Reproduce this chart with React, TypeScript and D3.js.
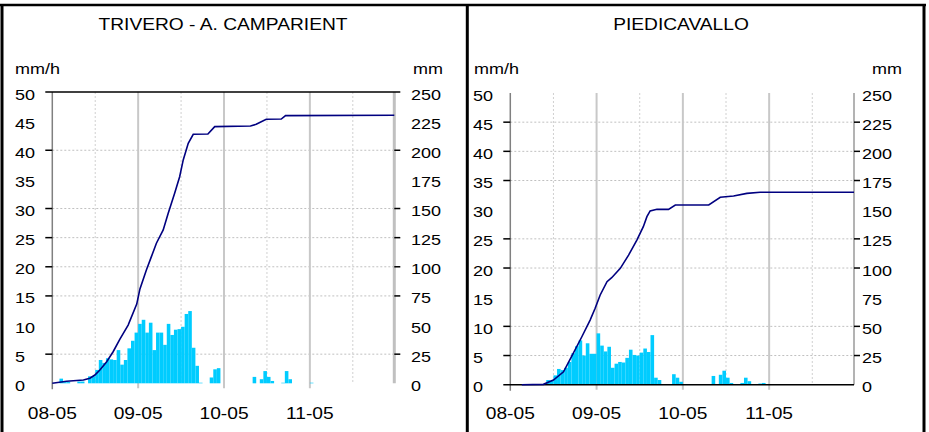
import React from 'react';
import * as d3 from 'd3';

// ---------- data ----------
const DAY_LABELS = ['08-05', '09-05', '10-05', '11-05'];
const DAY_HOURS = [0, 24, 48, 72];
const HALF_DAY_HOURS = [12, 36, 60, 84];
const RATE_TICKS = [0, 5, 10, 15, 20, 25, 30, 35, 40, 45, 50];
const CUM_TICKS = [0, 25, 50, 75, 100, 125, 150, 175, 200, 225, 250];

// TRIVERO - A. CAMPARIENT : hourly rain (mm/h)
const TRIVERO_BAR_HOURS = [2, 3, 4, 7, 8, 10, 11, 12, 13, 14, 15, 16, 17, 18, 19, 20, 21, 22, 23, 24, 25, 26, 27, 28, 29, 30, 31, 32, 33, 34, 35, 36, 37, 38, 39, 40, 41, 44, 45, 46, 56, 58, 59, 60, 61, 64, 65, 66, 72];
const TRIVERO_BAR_VALUES = [0.8, 0.2, 0.2, 0.3, 0.3, 1.2, 1.2, 2.3, 4.0, 3.5, 4.3, 4.1, 4.0, 5.7, 3.2, 4.0, 6.0, 7.3, 8.7, 10.2, 10.9, 8.7, 10.4, 5.7, 8.7, 8.7, 6.6, 10.2, 8.3, 9.2, 9.3, 9.7, 11.9, 12.4, 6.1, 3.0, 0.1, 1.0, 2.4, 2.6, 1.1, 0.7, 2.1, 1.1, 0.4, 0.1, 2.1, 0.7, 0.1];
// cumulative rain (mm)
const TRIVERO_CUM_HOURS = [0, 4, 8.7, 10.5, 11.9, 13.3, 15.2, 17, 18.9, 21.2, 23.6, 24.5, 26.3, 27.7, 29.1, 31, 32.4, 34.2, 35.6, 36.6, 38, 39.4, 43.5, 45.4, 55.4, 57, 59.8, 64, 65.2, 95.6];
const TRIVERO_CUM_VALUES = [0, 1.7, 2.8, 4.3, 7.1, 11.4, 18.5, 27.1, 38, 50, 68, 81, 97.3, 108.7, 120.2, 131.6, 145.9, 163.1, 177.3, 191.7, 206, 213.7, 214, 220.3, 220.8, 222.3, 226.6, 226.8, 229.7, 230];
const TRIVERO_GRID = [5, 15, 20, 25, 30, 40];

// PIEDICAVALLO
const PIEDI_BAR_HOURS = [10, 11, 12, 13, 14, 15, 16, 17, 18, 19, 20, 21, 22, 23, 24, 25, 26, 27, 28, 29, 30, 31, 32, 33, 34, 35, 36, 37, 38, 39, 40, 41, 45, 46, 47, 56, 58, 59, 60, 61, 62, 63, 64, 65, 66, 69, 70, 71];
const PIEDI_BAR_VALUES = [0.8, 0.7, 1.6, 2.7, 2.5, 2.9, 3.9, 5.4, 6.6, 7.6, 5.0, 7.1, 5.3, 5.3, 8.8, 6.7, 5.7, 6.5, 2.9, 3.6, 3.9, 3.8, 4.6, 6.0, 5.1, 5.0, 5.5, 6.2, 5.6, 8.5, 1.2, 0.8, 1.8, 1.2, 0.5, 1.5, 1.7, 2.4, 1.2, 0.3, 0.1, 0.1, 0.3, 1.2, 0.6, 0.2, 0.3, 0.1];
const PIEDI_CUM_HOURS = [3.2, 9.2, 12, 14.8, 17.5, 19.9, 22.2, 23.6, 25, 26.9, 28.2, 30.6, 32.9, 35.2, 37, 38, 38.9, 40.8, 44, 45.9, 55.2, 58.4, 62.1, 65.8, 69.5, 95.6];
const PIEDI_CUM_VALUES = [0, 0.3, 4, 11.1, 26.9, 41.1, 55.4, 65.5, 76.9, 88.3, 91.7, 99.7, 111.1, 124, 135.4, 144, 148.9, 150.3, 150.3, 154, 154, 160.6, 161.7, 164, 164.9, 164.9];
const PIEDI_GRID = [5, 10, 20, 25, 35, 40, 45];

const FONT = "'Liberation Sans', Arial, Helvetica, sans-serif";
const BAR_COLOR = '#00CCFF';
const LINE_COLOR = '#000080';

function T({ x, y, anchor = 'start', size = 15, children }: any) {
  return (
    <text
      transform={`translate(${x},${y}) scale(1.2,1)`}
      textAnchor={anchor}
      fontSize={size}
      fontFamily={FONT}
      fill="#000"
    >
      {children}
    </text>
  );
}

function Panel(props: any) {
  const {
    title, titleX, left, right, top, bottom,
    barHours, barValues, cumHours, cumValues, grid,
    leftLabelX, rightLabelX, unitLeftX, unitRightX, variant,
  } = props;

  const x = d3.scaleLinear().domain([0, 95.6]).range([left, right]);
  const y = d3.scaleLinear().domain([0, 50]).range([bottom, top]);
  const yc = d3.scaleLinear().domain([0, 250]).range([bottom, top]);

  const cumData = cumHours.map((h: number, i: number) => [h, cumValues[i]]);
  const line = d3
    .line<number[]>()
    .x((d) => x(d[0]))
    .y((d) => yc(d[1]));

  return (
    <g>
      <T x={titleX} y={30} anchor="middle" size={16}>{title}</T>
      <T x={unitLeftX} y={74}>mm/h</T>
      <T x={unitRightX} y={74} anchor="end">mm</T>

      {/* horizontal dotted grid */}
      {grid.map((v: number) => (
        <line key={'g' + v} x1={left} x2={right} y1={y(v)} y2={y(v)}
          stroke="#c0c0c0" strokeWidth={1} strokeDasharray="2,2" />
      ))}
      {/* half-day dotted verticals */}
      {HALF_DAY_HOURS.map((h) => (
        <line key={'hd' + h} x1={x(h)} x2={x(h)} y1={top} y2={bottom}
          stroke="#d0d0d0" strokeWidth={1} strokeDasharray="2,2" />
      ))}
      {/* day solid verticals */}
      {DAY_HOURS.slice(1).map((h) => (
        <line key={'d' + h} x1={x(h)} x2={x(h)} y1={top} y2={bottom + 5}
          stroke="#c8c8c8" strokeWidth={2} />
      ))}

      {/* bars */}
      {barHours.map((h: number, i: number) => (
        <rect key={'b' + h} x={x(h)} width={x(h + 1) - x(h)}
          y={y(barValues[i])} height={y(0) - y(barValues[i])} fill={BAR_COLOR} />
      ))}

      {/* axes */}
      <line x1={left} x2={left} y1={top} y2={bottom + 6} stroke="#808080" strokeWidth={1.5} />
      {variant === 'a' ? (
        <line x1={right} x2={right} y1={top} y2={bottom} stroke="#c0c0c0" strokeWidth={3} />
      ) : (
        <line x1={right} x2={right} y1={top} y2={bottom} stroke="#808080" strokeWidth={1.2} />
      )}
      {variant === 'a' ? (
        <line x1={left - 7} x2={right + 6} y1={top} y2={top} stroke="#000" strokeWidth={1.5} />
      ) : (
        <line x1={left - 7} x2={right} y1={bottom} y2={bottom} stroke="#000" strokeWidth={1.5} />
      )}
      {grid.map((v: number) => (
        <g key={'t' + v}>
          <line x1={left - 7} x2={left} y1={y(v)} y2={y(v)} stroke="#000" strokeWidth={1.5} />
          <line x1={right} x2={right + 6} y1={y(v)} y2={y(v)} stroke="#000" strokeWidth={1.5} />
        </g>
      ))}

      {/* cumulative line */}
      <path d={line(cumData) || ''} fill="none" stroke={LINE_COLOR} strokeWidth={1.6} />

      {/* tick labels */}
      {RATE_TICKS.map((v) => (
        <T key={'l' + v} x={leftLabelX} y={y(v) + 7.5}>{v}</T>
      ))}
      {CUM_TICKS.map((v) => (
        <T key={'r' + v} x={rightLabelX} y={yc(v) + 7.5}>{v}</T>
      ))}
      {DAY_HOURS.map((h, i) => (
        <T key={'x' + h} x={x(h)} y={419} anchor="middle" size={16}>{DAY_LABELS[i]}</T>
      ))}
    </g>
  );
}

export default function App() {
  return (
    <svg
      width={929}
      height={432}
      style={{ position: 'absolute', left: 0, top: 0, background: '#fff' }}
    >
      <rect x={0} y={0} width={929} height={432} fill="#fff" />
      <Panel
        title="TRIVERO - A. CAMPARIENT" titleX={223}
        left={52.3} right={394.3} top={92} bottom={383.3}
        barHours={TRIVERO_BAR_HOURS} barValues={TRIVERO_BAR_VALUES}
        cumHours={TRIVERO_CUM_HOURS} cumValues={TRIVERO_CUM_VALUES}
        grid={TRIVERO_GRID}
        leftLabelX={15} rightLabelX={411} unitLeftX={15} unitRightX={443}
        variant="a"
      />
      <Panel
        title="PIEDICAVALLO" titleX={681}
        left={510.3} right={854} top={93} bottom={384.7}
        barHours={PIEDI_BAR_HOURS} barValues={PIEDI_BAR_VALUES}
        cumHours={PIEDI_CUM_HOURS} cumValues={PIEDI_CUM_VALUES}
        grid={PIEDI_GRID}
        leftLabelX={473} rightLabelX={862} unitLeftX={474} unitRightX={902}
        variant="b"
      />
      {/* panel frames */}
      <line x1={0} x2={926} y1={5} y2={5} stroke="#000" strokeWidth={2.5} />
      <line x1={2} x2={2} y1={4} y2={432} stroke="#000" strokeWidth={3} />
      <line x1={467.3} x2={467.3} y1={4} y2={432} stroke="#000" strokeWidth={3} />
      <line x1={924} x2={924} y1={4} y2={432} stroke="#000" strokeWidth={3} />
    </svg>
  );
}
